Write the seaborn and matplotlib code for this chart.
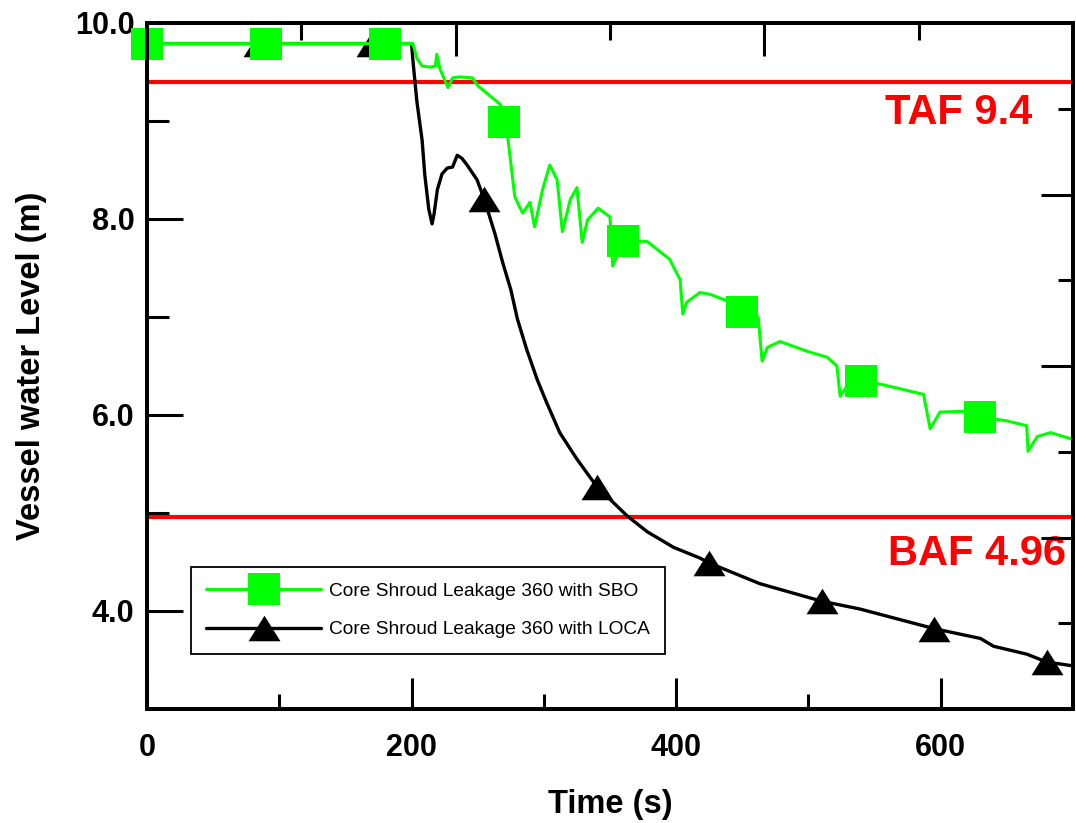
import numpy as np
import pandas as pd
import matplotlib
matplotlib.use("Agg")
import matplotlib.pyplot as plt
import seaborn as sns
from matplotlib.lines import Line2D
from matplotlib.ticker import FixedLocator, FormatStrFormatter
from matplotlib import font_manager

# ---- vessel water level histories ----
sbo_time = [0, 90, 180, 201, 204, 208, 214, 218, 219, 221.5, 225, 227.5, 231, 236,
            246, 250, 258, 267, 270, 273, 278, 281, 284, 289.5, 293, 299, 304.5,
            310, 314, 320, 325, 329, 333, 341, 350, 352, 356, 360, 378, 395, 403,
            405, 408, 418, 426, 441, 450, 462, 465, 469, 478.5, 499, 514, 521.5,
            524, 529, 540, 556, 587, 592, 599.5, 622, 630, 650, 665, 666, 673,
            683, 700]
sbo_level = [9.79, 9.79, 9.79, 9.79, 9.64, 9.56, 9.55, 9.56, 9.68, 9.53, 9.42, 9.34,
             9.44, 9.45, 9.44, 9.36, 9.27, 9.17, 8.99, 8.80, 8.23, 8.14, 8.06, 8.17,
             7.92, 8.30, 8.55, 8.40, 7.87, 8.20, 8.32, 7.76, 7.99, 8.11, 8.02, 7.52,
             7.65, 7.78, 7.77, 7.59, 7.38, 7.03, 7.15, 7.25, 7.23, 7.15, 7.05, 7.00,
             6.55, 6.69, 6.75, 6.65, 6.59, 6.50, 6.19, 6.29, 6.35, 6.31, 6.21, 5.86,
             6.03, 6.04, 5.98, 5.94, 5.89, 5.63, 5.78, 5.82, 5.75]
sbo_marker_time = [0, 90, 180, 270, 360, 450, 540, 630]

loca_time = [0, 85, 170, 200, 201, 204, 208, 210, 213, 215.5, 217, 219.5, 223, 227,
             231, 234.5, 238, 242, 249.5, 255, 263, 269, 275, 280, 287, 295, 302,
             312, 325, 340, 363, 378, 388, 398, 418, 425, 463, 510, 539, 595, 630,
             640, 665, 680, 700]
loca_level = [9.79, 9.79, 9.79, 9.79, 9.62, 9.20, 8.80, 8.45, 8.10, 7.95, 8.05, 8.30,
              8.46, 8.52, 8.53, 8.65, 8.62, 8.55, 8.40, 8.20, 7.85, 7.55, 7.28, 6.98,
              6.67, 6.36, 6.13, 5.82, 5.55, 5.27, 4.97, 4.81, 4.73, 4.65, 4.54, 4.49,
              4.28, 4.10, 4.02, 3.82, 3.72, 3.64, 3.56, 3.48, 3.44]
loca_marker_time = [0, 85, 170, 255, 340, 425, 510, 595, 680]

series_labels = ["Core Shroud Leakage 360 with SBO",
                 "Core Shroud Leakage 360 with LOCA"]

# fuel reference elevations
taf_level = 9.4
baf_level = 4.96

x_major = [0, 200, 400, 600]
x_minor = [100, 300, 500]
y_major = [4, 6, 8, 10]
y_minor = [5, 7, 9]

# ---- styling ----
GREEN = "#00ff00"
RED = "#ff0000"

sns.set_theme(style="ticks")
plt.rcParams["font.family"] = ["Liberation Sans", "DejaVu Sans"]
plt.rcParams.update({
    "axes.edgecolor": "black",
    "text.color": "black",
    "axes.labelcolor": "black",
    "xtick.color": "black",
    "ytick.color": "black",
})


def narrow_family():
    try:
        font_manager.findfont(font_manager.FontProperties(family="Liberation Sans Narrow"),
                              fallback_to_default=False)
        return ["Liberation Sans Narrow", "DejaVu Sans"], 16.5
    except Exception:
        return ["Liberation Sans", "DejaVu Sans"], 13.8


legend_family, legend_size = narrow_family()

fig = plt.figure(figsize=(10.76, 8.23), dpi=100)
fig.patch.set_facecolor("white")
ax = fig.add_axes([147 / 1076, 1 - 709 / 823, 926 / 1076, 686 / 823])
ax.set_facecolor("white")

ax.axhline(taf_level, color=RED, lw=3.0, zorder=2)
ax.axhline(baf_level, color=RED, lw=3.0, zorder=2)

sbo = pd.DataFrame({"t": sbo_time, "level": sbo_level})
loca = pd.DataFrame({"t": loca_time, "level": loca_level})
sbo_mark = list(np.isin(sbo["t"], sbo_marker_time))
loca_mark = list(np.isin(loca["t"], loca_marker_time))

tri = [(-1.0, -0.8), (1.0, -0.8), (0.0, 0.8), (-1.0, -0.8)]

sns.lineplot(data=loca, x="t", y="level", ax=ax, color="black", lw=2.4,
             marker=tri, markersize=23, markevery=loca_mark,
             markerfacecolor="black", markeredgewidth=0, markeredgecolor="black",
             estimator=None, sort=False, legend=False, zorder=3, clip_on=False)
sns.lineplot(data=sbo, x="t", y="level", ax=ax, color=GREEN, lw=2.2,
             marker="s", markersize=23, markevery=sbo_mark,
             markerfacecolor=GREEN, markeredgewidth=0, markeredgecolor=GREEN,
             estimator=None, sort=False, legend=False, zorder=4, clip_on=False)

ax.text(558, 9.08, f"TAF {taf_level:g}", color=RED, fontsize=30,
        fontweight="bold", va="center", ha="left", zorder=5)
ax.text(560, 4.58, f"BAF {baf_level:g}", color=RED, fontsize=30,
        fontweight="bold", va="center", ha="left", zorder=5)

ax.set_xlim(0, 700)
ax.set_ylim(3, 10)
ax.xaxis.set_major_locator(FixedLocator(x_major))
ax.xaxis.set_minor_locator(FixedLocator(x_minor))
ax.yaxis.set_major_locator(FixedLocator(y_major))
ax.yaxis.set_minor_locator(FixedLocator(y_minor))
ax.yaxis.set_major_formatter(FormatStrFormatter("%.1f"))
ax.xaxis.set_major_formatter(FormatStrFormatter("%d"))

ax.tick_params(axis="x", which="major", direction="in", length=22, width=2.2,
               pad=17, labelsize=22, bottom=True, top=False, colors="black")
ax.tick_params(axis="x", which="minor", direction="in", length=11, width=2.2,
               bottom=True, top=False, colors="black")
ax.tick_params(axis="y", which="major", direction="in", length=26, width=2.2,
               pad=9, labelsize=22, left=True, right=False, colors="black")
ax.tick_params(axis="y", which="minor", direction="in", length=16, width=2.2,
               left=True, right=False, colors="black")
for lab in ax.get_xticklabels() + ax.get_yticklabels():
    lab.set_fontweight("bold")

ax.set_xlabel("Time (s)", fontsize=23.5, fontweight="bold", labelpad=19, color="black")
ax.set_ylabel("Vessel water Level (m)", fontsize=23.5, fontweight="bold", labelpad=20,
              color="black")

for sp in ax.spines.values():
    sp.set_linewidth(2.8)
    sp.set_color("black")

# independent tick scales along the top and right frame edges
ax_top = ax.twiny()
ax_top.set_xlim(0, 600)
ax_top.xaxis.set_major_locator(FixedLocator([200, 400]))
ax_top.xaxis.set_minor_locator(FixedLocator([100, 300, 500]))
ax_top.tick_params(axis="x", which="major", direction="in", length=24, width=2.2,
                   top=True, bottom=False, labeltop=False, labelbottom=False,
                   colors="black")
ax_top.tick_params(axis="x", which="minor", direction="in", length=12, width=2.2,
                   top=True, bottom=False, colors="black")
ax_top.tick_params(axis="y", left=False, right=False, labelleft=False, labelright=False)

ax_right = ax.twinx()
ax_right.set_ylim(0, 8)
ax_right.yaxis.set_major_locator(FixedLocator([2, 4, 6]))
ax_right.yaxis.set_minor_locator(FixedLocator([1, 3, 5, 7]))
ax_right.tick_params(axis="y", which="major", direction="in", length=23, width=2.2,
                     right=True, left=False, labelright=False, labelleft=False,
                     colors="black")
ax_right.tick_params(axis="y", which="minor", direction="in", length=11, width=2.2,
                     right=True, left=False, colors="black")
ax_right.tick_params(axis="x", top=False, bottom=False, labeltop=False, labelbottom=False)
for a in (ax_top, ax_right):
    for sp in a.spines.values():
        sp.set_linewidth(2.8)
        sp.set_color("black")
    a.grid(False)

handles = [
    Line2D([], [], color=GREEN, lw=2.2, marker="s", markersize=23,
           markerfacecolor=GREEN, markeredgewidth=0),
    Line2D([], [], color="black", lw=2.4, marker=tri, markersize=23,
           markerfacecolor="black", markeredgewidth=0),
]
leg = ax_right.legend(handles, series_labels, loc="upper left",
                      bbox_to_anchor=(44 / 926, 142 / 686), bbox_transform=ax.transAxes,
                      borderaxespad=0, frameon=True, fancybox=False, framealpha=1,
                      edgecolor="black", handlelength=6.0, handletextpad=0.4,
                      labelspacing=1.1, borderpad=0.8, numpoints=1,
                      prop={"family": legend_family, "size": legend_size})
leg.get_frame().set_linewidth(1.3)
for txt in leg.get_texts():
    txt.set_color("black")
leg.set_zorder(10)

fig.savefig("out.png", dpi=100, facecolor="white")
